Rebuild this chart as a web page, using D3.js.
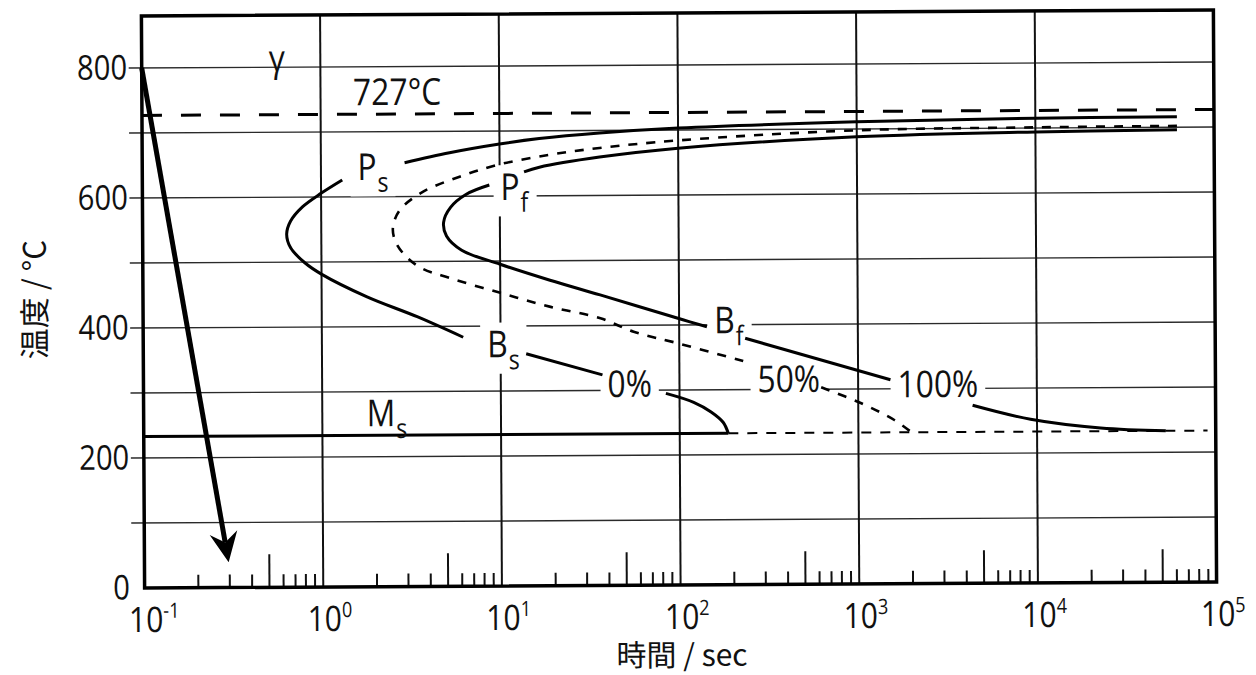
<!DOCTYPE html>
<html>
<head>
<meta charset="utf-8">
<script src="https://cdn.jsdelivr.net/npm/d3@7"></script>
<style>
  body { margin: 0; background: #fff; }
  svg { display: block; }
</style>
</head>
<body>
<div class="container"></div>
<script>
// axis values
const decades = [0.1, 1, 10, 100, 1000, 10000, 100000]
const decadeExp = ['-1', '0', '1', '2', '3', '4', '5']
const tempLabels = [0, 200, 400, 600, 800]
const tempGrid = [100, 200, 300, 400, 500, 600, 700, 800]

// curves as [time (s), temperature (C)], split where a label interrupts them
const start0Upper = [[2.94, 652], [5.25, 667], [10, 680], [16.7, 688], [36.3, 696], [100, 703], [1000, 711], [10000, 715], [62000, 716]]
const start0Nose = [[1.315, 626], [1.004, 606], [0.786, 585], [0.673, 563], [0.64, 543], [0.673, 522], [0.807, 499], [1.004, 481], [1.795, 446], [3.42, 415], [6.18, 383]]
const start0Bainite = [[13.9, 357], [37.1, 324]]
const start0Tail = [[83.9, 295], [120, 281], [150, 266], [175, 250], [187, 233]]

const half50A = [[62000, 702], [10000, 701], [1000, 698], [100, 684], [36.3, 673], [19.1, 663], [9.75, 648], [5.97, 630], [3.71, 607], [2.75, 579], [2.52, 553], [2.58, 533], [2.86, 513], [3.56, 491], [5.25, 474], [10, 451], [19.1, 429], [36.3, 411], [55.6, 390], [98, 372], [242, 342]]
const half50B = [[621, 303], [1040, 278], [1590, 252], [1980, 233]]

const fin100Upper = [[62000, 696], [10000, 694], [1000, 688], [100, 672], [36.3, 659], [16.7, 644], [13.7, 637]]
const fin100Nose = [[8.75, 617], [6.5, 603], [5.3, 583], [4.84, 560], [5.02, 539], [6.1, 517], [10, 495], [19, 470], [36.2, 447], [105, 408], [143, 397]]
const fin100Mid = [[234, 379], [1517, 314]]
const fin100Tail = [[4365, 274], [9200, 252], [22700, 238], [52500, 233]]

const msSolid = [[0.1, 233], [187, 233]]
const msDashed = [[187, 233], [90000, 233]]
const a1Line = [[0.1, 727], [100000, 727]]
const cooling = [[0.1, 800], [0.296, 39]]

// annotations: text, subscript, anchor time, anchor temperature
const labels = [
  { main: 'γ', sub: '', t: 0.514, T: 794, mask: false },
  { main: '727°C', sub: '', t: 1.52, T: 741, mask: false },
  { main: 'P', sub: 's', t: 1.6, T: 626, mask: true },
  { main: 'P', sub: 'f', t: 10.1, T: 594, mask: true },
  { main: 'B', sub: 's', t: 8.41, T: 352, mask: true },
  { main: 'B', sub: 'f', t: 157, T: 387, mask: true },
  { main: 'M', sub: 's', t: 1.77, T: 247, mask: false },
  { main: '0%', sub: '', t: 39.5, T: 290, mask: true },
  { main: '50%', sub: '', t: 273, T: 296, mask: true },
  { main: '100%', sub: '', t: 1660, T: 287, mask: true }
]

const font = "'Open Sans', 'Noto Sans', sans-serif"
const squeeze = 'scale(0.86,1)'

const svg = d3.select('.container').append('svg')
  .attr('width', 1256)
  .attr('height', 675)
  .style('background', '#fff')

// the scanned figure sits slightly tilted
const chart = svg.append('g').attr('transform', 'rotate(-0.32,679,300)')

const x = d3.scaleLog().domain([0.1, 100000]).range([143, 1215])
const y = d3.scaleLinear().domain([0, 880]).range([585, 13])

const line = d3.line()
  .x(d => x(d[0]))
  .y(d => y(d[1]))
  .curve(d3.curveCatmullRom.alpha(0.5))

// grid
const grid = chart.append('g')
grid.selectAll('.hgrid')
  .data(tempGrid)
  .enter()
  .append('line')
  .attr('x1', 130)
  .attr('x2', x(100000))
  .attr('y1', d => y(d))
  .attr('y2', d => y(d))
  .attr('stroke', '#2a2a2a')
  .attr('stroke-width', 1.4)

grid.selectAll('.vgrid')
  .data(decades.slice(1, -1))
  .enter()
  .append('line')
  .attr('x1', d => x(d))
  .attr('x2', d => x(d))
  .attr('y1', y(0))
  .attr('y2', y(880))
  .attr('stroke', '#111')
  .attr('stroke-width', 2)

const minor = []
decades.slice(0, -1).forEach(d => {
  for (let k = 2; k <= 9; k++) minor.push({ v: k * d, k: k })
})
grid.selectAll('.minor')
  .data(minor)
  .enter()
  .append('line')
  .attr('x1', d => x(d.v))
  .attr('x2', d => x(d.v))
  .attr('y1', y(0))
  .attr('y2', d => y(0) - (d.k === 5 ? 33 : 13))
  .attr('stroke', '#111')
  .attr('stroke-width', 2)

const maskLayer = chart.append('g')
const curveLayer = chart.append('g')
const frameLayer = chart.append('g')
const labelLayer = chart.append('g')

// curves
const solid = [start0Upper, start0Nose, start0Bainite, start0Tail, fin100Upper, fin100Nose, fin100Mid, fin100Tail, msSolid]
curveLayer.selectAll('.solid')
  .data(solid)
  .enter()
  .append('path')
  .attr('d', line)
  .attr('fill', 'none')
  .attr('stroke', '#000')
  .attr('stroke-width', 3)

curveLayer.selectAll('.half')
  .data([half50A, half50B])
  .enter()
  .append('path')
  .attr('d', line)
  .attr('fill', 'none')
  .attr('stroke', '#000')
  .attr('stroke-width', 2.6)
  .attr('stroke-dasharray', '9,9')

curveLayer.append('path')
  .attr('d', line(msDashed))
  .attr('fill', 'none')
  .attr('stroke', '#000')
  .attr('stroke-width', 2)
  .attr('stroke-dasharray', '10,9')

curveLayer.append('path')
  .attr('d', line(a1Line))
  .attr('fill', 'none')
  .attr('stroke', '#000')
  .attr('stroke-width', 3)
  .attr('stroke-dasharray', '20,19')

// frame
frameLayer.append('rect')
  .attr('x', x(0.1))
  .attr('y', y(880))
  .attr('width', x(100000) - x(0.1))
  .attr('height', y(0) - y(880))
  .attr('fill', 'none')
  .attr('stroke', '#000')
  .attr('stroke-width', 3.5)

// cooling arrow
const p0 = [x(cooling[0][0]), y(cooling[0][1])]
const p1 = [x(cooling[1][0]), y(cooling[1][1])]
const len = Math.hypot(p1[0] - p0[0], p1[1] - p0[1])
const u = [(p1[0] - p0[0]) / len, (p1[1] - p0[1]) / len]
const n = [-u[1], u[0]]
const headLen = 30, headHalf = 14, notch = 20
frameLayer.append('line')
  .attr('x1', p0[0]).attr('y1', p0[1])
  .attr('x2', p1[0] - u[0] * notch).attr('y2', p1[1] - u[1] * notch)
  .attr('stroke', '#000')
  .attr('stroke-width', 5)
frameLayer.append('path')
  .attr('d', d3.line()([
    p1,
    [p1[0] - u[0] * headLen + n[0] * headHalf, p1[1] - u[1] * headLen + n[1] * headHalf],
    [p1[0] - u[0] * notch, p1[1] - u[1] * notch],
    [p1[0] - u[0] * headLen - n[0] * headHalf, p1[1] - u[1] * headLen - n[1] * headHalf]
  ]) + 'Z')
  .attr('fill', '#000')

// axes
const yAxis = chart.append('g')
  .attr('transform', `translate(${x(0.1)},0)`)
  .call(d3.axisLeft(y).tickValues(tempLabels).tickSize(0).tickPadding(17))
yAxis.select('.domain').remove()
yAxis.selectAll('text')
  .attr('font-family', font)
  .attr('font-size', 34)
  .attr('fill', '#111')
  .attr('transform', squeeze)

const xAxis = chart.append('g')
  .attr('transform', `translate(0,${y(0)})`)
  .call(d3.axisBottom(x).tickValues(decades).tickSize(0).tickFormat(''))
xAxis.select('.domain').remove()
xAxis.selectAll('.tick').each(function (d, i) {
  const t = d3.select(this).append('text')
    .attr('font-family', font)
    .attr('font-size', 35)
    .attr('fill', '#111')
    .attr('text-anchor', 'start')
    .attr('x', -19)
    .attr('y', 44)
    .attr('transform', squeeze)
  t.append('tspan').text('10')
  t.append('tspan').attr('font-size', 21).attr('dy', -14).text(decadeExp[i])
})

chart.append('text')
  .attr('x', 680)
  .attr('y', 666)
  .attr('text-anchor', 'middle')
  .attr('font-family', "'Noto Sans CJK JP', " + font)
  .attr('font-size', 30)
  .attr('fill', '#111')
  .text('時間 / sec')

chart.append('text')
  .attr('transform', 'translate(46,296) rotate(-90)')
  .attr('text-anchor', 'middle')
  .attr('font-family', "'Noto Sans CJK JP', " + font)
  .attr('font-size', 31)
  .attr('fill', '#111')
  .text('温度 / °C')

// labels, with white boxes that break the grid behind them
labels.forEach(l => {
  const tr = `translate(${x(l.t)},${y(l.T)}) ${squeeze}`
  const txt = labelLayer.append('text')
    .attr('transform', tr)
    .attr('font-family', font)
    .attr('font-size', 37)
    .attr('fill', '#111')
  txt.append('tspan').text(l.main)
  if (l.sub) txt.append('tspan').attr('font-size', 27).attr('dx', 1).attr('dy', 12).text(l.sub)
  if (l.mask) {
    const b = txt.node().getBBox()
    maskLayer.append('rect')
      .attr('transform', tr)
      .attr('x', b.x - 8)
      .attr('y', b.y + 5)
      .attr('width', b.width + 16)
      .attr('height', b.height - 8)
      .attr('fill', '#fff')
  }
})
</script>
</body>
</html>
